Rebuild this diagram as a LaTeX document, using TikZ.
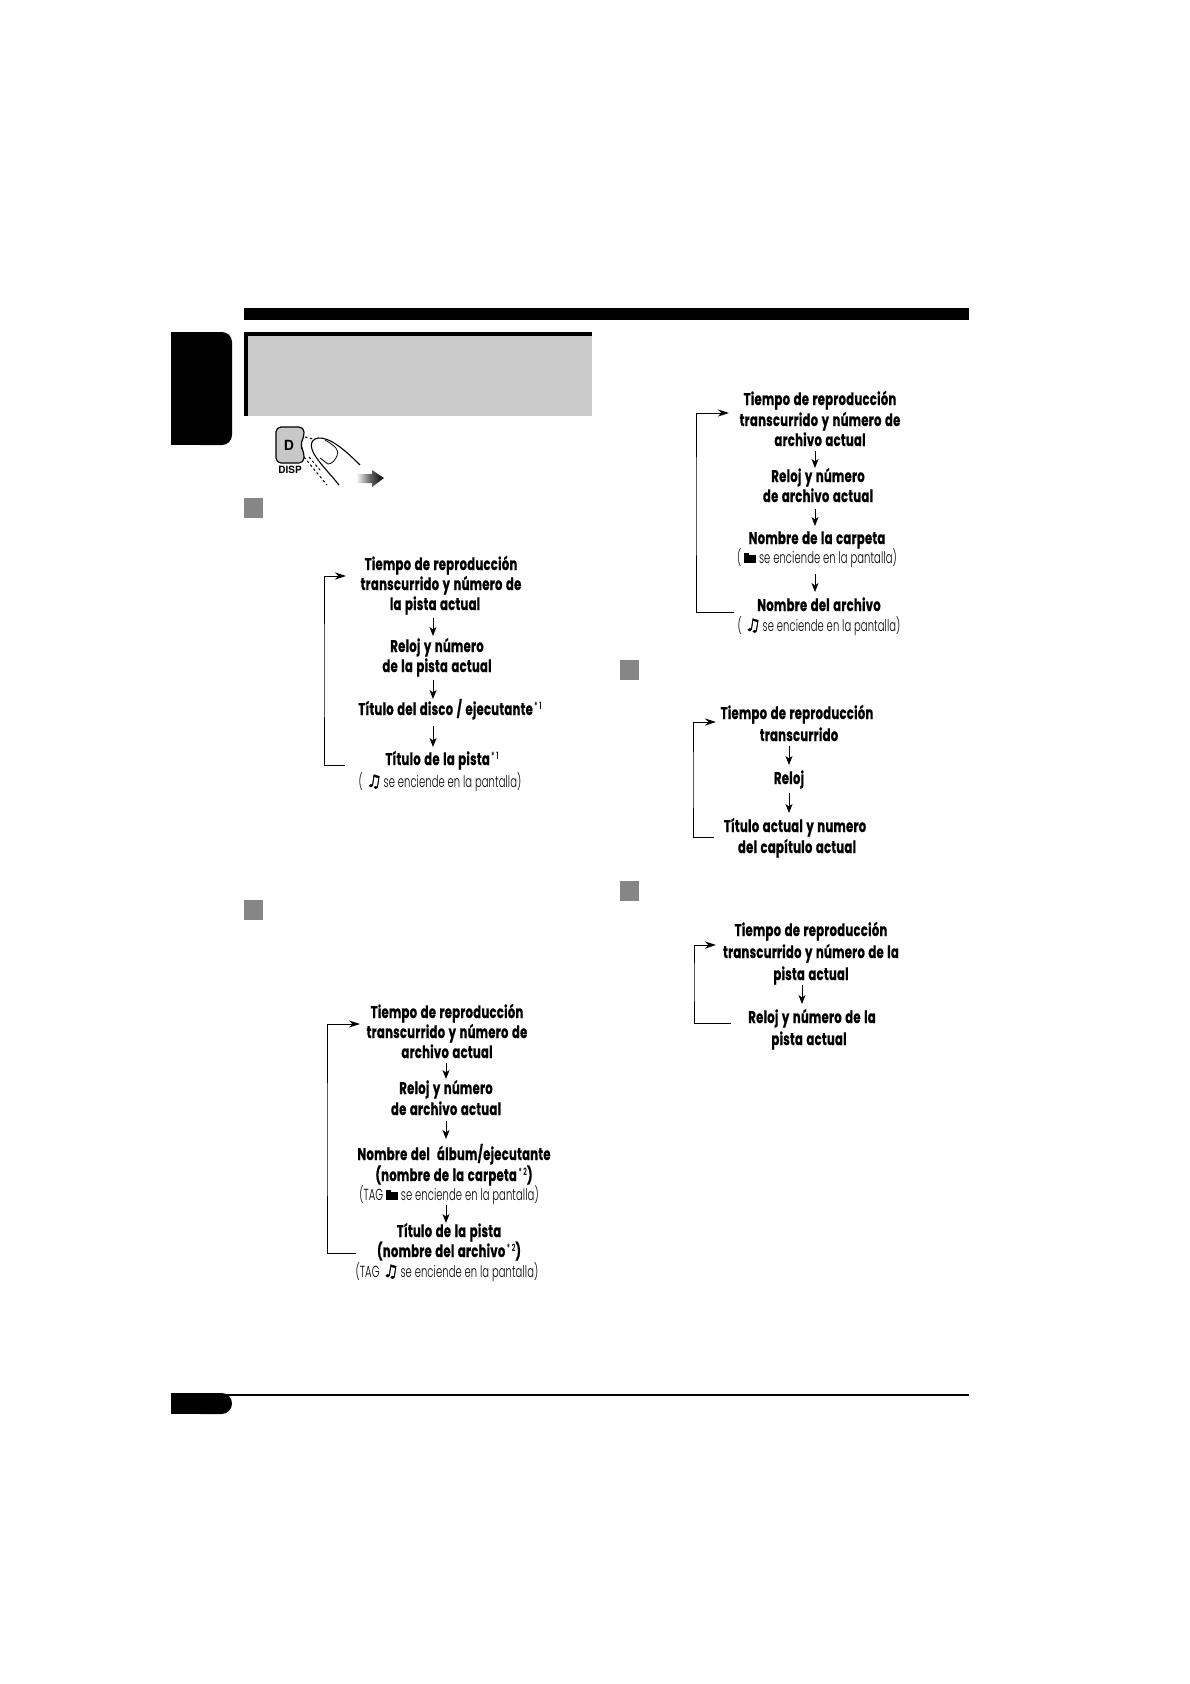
\documentclass[tikz,border=0pt]{standalone}
\usepackage{fontspec}
\usetikzlibrary{arrows.meta,shadings}
\setmainfont{Poppins}
\newfontfamily\fb[FakeStretch=.685,FakeBold=.6,LetterSpace=1.5,WordSpace=1.3]{Poppins}
\newfontfamily\fl[FakeStretch=.625,LetterSpace=.5]{Poppins Light}
\newfontfamily\fsym[FakeBold=2,FakeSlant=.15]{DejaVu Sans}
\newfontfamily\fhv{TeX Gyre Heros}
\newcommand{\nta}{{\fsym\fontsize{17}{16}\selectfont ♫}}
\newcommand{\fld}{\rule{12pt}{8.5pt}\llap{\raisebox{8.5pt}{\rule{5pt}{1.5pt}\kern7pt}}}
\newcommand{\supn}[1]{\raisebox{.6ex}{\fl\fontsize{10}{10}\selectfont\,*\,#1}}
\definecolor{sqgray}{HTML}{868686}
\definecolor{hdrgray}{HTML}{CBCBCB}
\definecolor{btngray}{HTML}{C8C8C8}
\tikzset{
  x=1pt,y=-1pt,
  tb/.style={yshift=-1pt,inner sep=0pt,outer sep=4pt,text height=12pt,text depth=4pt,font=\fb\bfseries\fontsize{17}{16}\selectfont},
  tl/.style={yshift=-1pt,inner sep=0pt,outer sep=4pt,text height=12pt,text depth=4pt,font=\fl\fontsize{16}{16}\selectfont},
  flowarr/.style={line width=1pt,-{Stealth[length=9pt,width=7pt,inset=2.5pt]}},
  fback/.style={line width=1pt,-{Stealth[length=11pt,width=7pt,inset=3.5pt]}},
  solidblack/.style={fill=black,draw=none}
}
\begin{document}
\begin{tikzpicture}
\useasboundingbox (0,0) rectangle (1190,1684);
% page furniture
\fill[solidblack] (244,308) rectangle (969,320);
\fill[solidblack,rounded corners=10pt] (190,332) rectangle (232,445);
\fill[solidblack] (171,332) rectangle (215,445);
\fill[hdrgray] (244,332) rectangle (592,416);
\fill[solidblack] (244,332) rectangle (592,336);
\fill[solidblack] (244,332) rectangle (248,416);
\fill[sqgray] (244,498) rectangle (263,518);
\fill[sqgray] (244,900) rectangle (263,920);
\fill[sqgray] (620,660) rectangle (639,680);
\fill[sqgray] (620,881) rectangle (639,901);
\fill[solidblack] (171,1394) rectangle (969,1396);
\fill[solidblack,rounded corners=10.4pt] (190,1393) rectangle (232,1414);
\fill[solidblack] (171,1393) rectangle (215,1414);
% button and finger
\draw[line width=1.2pt,fill=btngray,rounded corners=5pt] (304,427) -- (276,427) -- (276,463) -- (304,463) -- (304,452) -- (300,445) -- (304,437) -- cycle;
\node[inner sep=0pt,font=\fhv\bfseries\fontsize{14}{14}\selectfont] (dkey) at (289,445) {D};
\node[inner sep=0pt,font=\fhv\bfseries\fontsize{10}{10}\selectfont] (disp) at (290,470) {DISP};
\draw[line width=1.1pt] (360,465) .. controls (345,450) and (330,437) .. (318,438) .. controls (308,440) and (311,450) .. (316,457) .. controls (322,466) and (332,476) .. (339,485);
\draw[line width=.8pt] (325,440) .. controls (335,446) and (340,450) .. (337,456) .. controls (335,460) and (332,464) .. (328,464) -- (320,458);
\draw[line width=1pt,dash pattern=on 2.5pt off 2.5pt] (305,437) -- (313,439);
\draw[line width=1pt,dash pattern=on 2.5pt off 2.5pt] (304,457) -- (327,485);
\draw[line width=1pt,dash pattern=on 2.5pt off 2.5pt] (309,457) -- (320,470);
\shade[left color=white,right color=black,middle color=black!60,draw=none] (356,474) -- (372,474) -- (372,470) -- (384,478) -- (372,487) -- (372,483) -- (356,483) -- cycle;

% flow 1
\node[tb] (a1) at (441,565) {Tiempo de reproducción};
\node[tb] (a2) at (441,585) {transcurrido y número de};
\node[tb] (a3) at (435,605) {la pista actual};
\node[tb] (a4) at (437,647) {Reloj y número};
\node[tb] (a5) at (437,667) {de la pista actual};
\node[tb] (a6) at (450,710) {Título del disco / ejecutante\supn{1}};
\node[tb] (a7) at (442,760) {Título de la pista\supn{1}};
\node[tl] (a8) at (440,782) {( \nta\,se enciende en la pantalla)};
\coordinate (ax) at (433,0);
\draw[flowarr] (a3.south -| ax) -- (a4.north -| ax);
\draw[flowarr] (a5.south -| ax) -- (a6.north -| ax);
\draw[flowarr,shorten <=3pt,shorten >=2pt] (a6.south -| ax) -- (a7.north -| ax);
\coordinate (af) at (345,765); \coordinate (ar) at (324,670); \coordinate (at) at (346,576);
\draw[fback] (af) -| (ar) |- (at);

% flow 2
\node[tb] (b1) at (447,1013) {Tiempo de reproducción};
\node[tb] (b2) at (447,1033) {transcurrido y número de};
\node[tb] (b3) at (447,1053) {archivo actual};
\node[tb] (b4) at (446,1089) {Reloj y número};
\node[tb] (b5) at (446,1110) {de archivo actual};
\node[tb] (b6) at (454,1155) {Nombre del\ \ álbum/ejecutante};
\node[tb] (b7) at (454,1176) {(nombre de la carpeta\supn{2})};
\node[tl] (b8) at (449,1195) {(TAG \fld\ se enciende en la pantalla)};
\node[tb] (b9) at (449,1232) {Título de la pista};
\node[tb] (b10) at (449,1252) {(nombre del archivo\supn{2})};
\node[tl] (b11) at (447,1272) {(TAG \nta\ se enciende en la pantalla)};
\coordinate (bx) at (446,0);
\draw[flowarr,shorten <=-3pt,shorten >=-1pt] (b3.south -| bx) -- (b4.north -| bx);
\draw[flowarr,shorten <=-2pt,shorten >=5pt] (b5.south -| bx) -- (b6.north -| bx);
\draw[flowarr,shorten <=-3pt,shorten >=-2pt] (b8.south -| bx) -- (b9.north -| bx);
\coordinate (bf) at (356,1253); \coordinate (br) at (327,1140); \coordinate (bt) at (360,1024);
\draw[fback] (bf) -| (br) |- (bt);

% flow 3
\node[tb] (c1) at (820,400) {Tiempo de reproducción};
\node[tb] (c2) at (820,421) {transcurrido y número de};
\node[tb] (c3) at (820,441) {archivo actual};
\node[tb] (c4) at (818,477) {Reloj y número};
\node[tb] (c5) at (818,497) {de archivo actual};
\node[tb] (c6) at (817,539) {Nombre de la carpeta};
\node[tl] (c7) at (817,558) {( \fld\ se enciende en la pantalla)};
\node[tb] (c8) at (819,606) {Nombre del archivo};
\node[tl] (c9) at (819,626) {( \nta\ se enciende en la pantalla)};
\coordinate (cx) at (815,0);
\draw[flowarr,shorten <=-3pt,shorten >=-2pt] (c3.south -| cx) -- (c4.north -| cx);
\draw[flowarr,shorten <=-1pt,shorten >=2pt] (c5.south -| cx) -- (c6.north -| cx);
\draw[flowarr,shorten <=3pt,shorten >=3pt] (c7.south -| cx) -- (c8.north -| cx);
\coordinate (cf) at (734,612); \coordinate (cr) at (696,500); \coordinate (ct) at (729,413);
\draw[fback] (cf) -| (cr) |- (ct);

% flow 4
\node[tb] (d1) at (797,714) {Tiempo de reproducción};
\node[tb] (d2) at (799,736) {transcurrido};
\node[tb] (d3) at (789,779) {Reloj};
\node[tb] (d4) at (795,827) {Título actual y numero};
\node[tb] (d5) at (797,848) {del capítulo actual};
\coordinate (dx) at (789,0);
\draw[flowarr,shorten <=-3pt,shorten >=3pt] (d2.south -| dx) -- (d3.north -| dx);
\draw[flowarr,shorten <=1pt,shorten >=3pt] (d3.south -| dx) -- (d4.north -| dx);
\coordinate (df) at (714,837); \coordinate (dr) at (693,780); \coordinate (dt) at (716,722);
\draw[fback] (df) -| (dr) |- (dt);

% flow 5
\node[tb] (e1) at (811,931) {Tiempo de reproducción};
\node[tb] (e2) at (811,953) {transcurrido y número de la};
\node[tb] (e3) at (811,975) {pista actual};
\node[tb] (e4) at (812,1018) {Reloj y número de la};
\node[tb] (e5) at (809,1040) {pista actual};
\coordinate (ex) at (802,0);
\draw[flowarr,shorten <=-3pt,shorten >=3pt] (e3.south -| ex) -- (e4.north -| ex);
\coordinate (ef) at (731,1023); \coordinate (er) at (694,980); \coordinate (et) at (716,945);
\draw[fback] (ef) -| (er) |- (et);
\end{tikzpicture}
\end{document}
